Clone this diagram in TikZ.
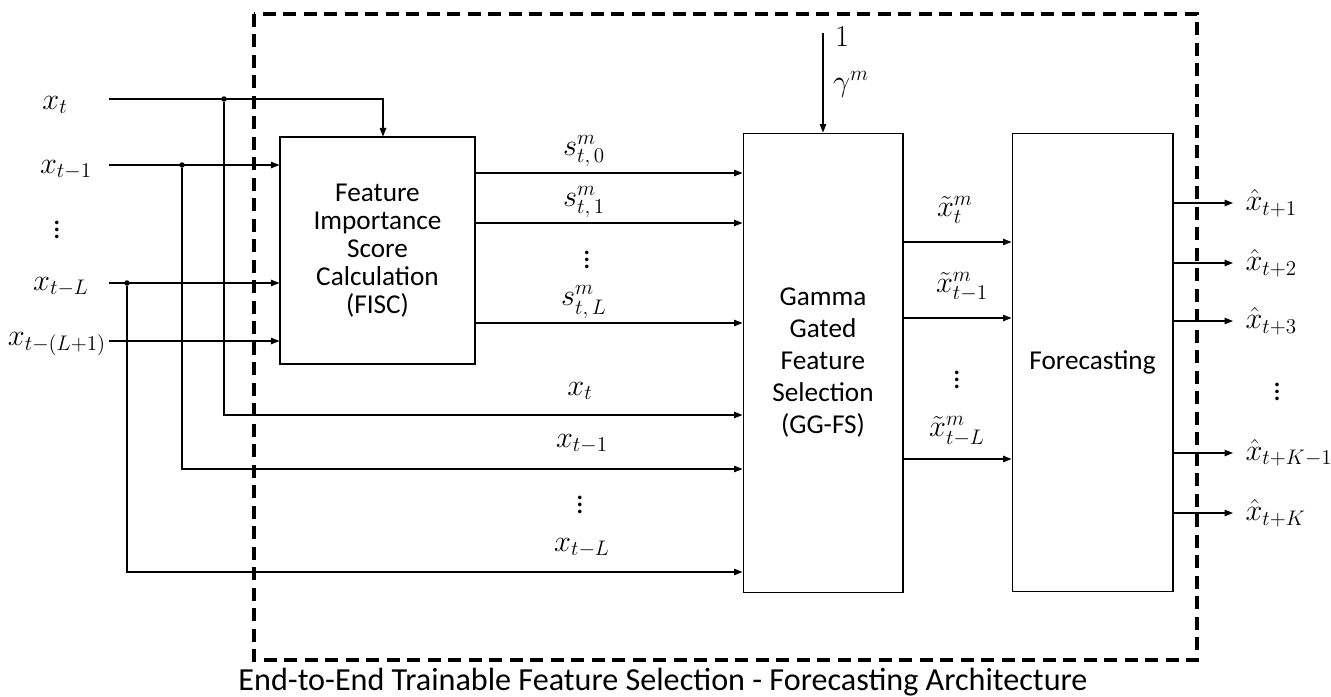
\documentclass[tikz,border=0pt]{standalone}
\usepackage{amsmath,amssymb}
\usepackage[no-math]{fontspec}
\setmainfont{Carlito}
\usetikzlibrary{arrows.meta}

\tikzset{
  blk/.style={draw, line width=0.6pt, align=center, font=\fontsize{15.5}{16}\selectfont},
  arr/.style={-{Triangle[length=1.7mm,width=1.3mm]}, line width=0.6pt},
  lbl/.style={font=\fontsize{17}{19}\selectfont, inner sep=0pt},
  jdot/.style={circle, fill, inner sep=0pt, minimum size=1.1mm}
}

\begin{document}
\begin{tikzpicture}[x=0.02cm, y=-0.02cm]
\useasboundingbox (0,0) rectangle (1331,696);
%--- outer frame ---
\draw[line width=2pt, dash pattern=on 2.6mm off 1.5mm] (254,14) rectangle (1197,660);
\node[font=\fontsize{18.3}{20}\selectfont, inner sep=0pt] (cap) at (663,682) {End-to-End Trainable Feature Selection - Forecasting Architecture};

%--- blocks ---
\node[blk, minimum width=3.9cm, minimum height=4.54cm] (fisc) at (377.5,250.5)
  {Feature\\Importance\\Score\\Calculation\\(FISC)};
\node[blk, minimum width=3.2cm, minimum height=9.2cm, font=\fontsize{15.5}{18.2}\selectfont] (ggfs) at (823,363)
  {Gamma\\Gated\\Feature\\Selection\\(GG-FS)};
\node[blk, minimum width=3.22cm, minimum height=9.18cm] (fc) at (1092.5,362.5) {Forecasting};

%--- inputs ---
\node[lbl] (in0) at (55,105) {$x_t$};
\node[lbl] (in1) at (66,170) {$x_{t-1}$};
\node[lbl] (indots) at (57,225) {$\vdots$};
\node[lbl] (inL) at (61,287) {$x_{t-L}$};
\node[lbl] (inL1) at (57,344) {$x_{t-(L+1)}$};
\coordinate (s0) at (109,99);
\coordinate (s1) at (109,165);
\coordinate (sL) at (109,283);
\coordinate (sL1) at (109,341);
\node[jdot] (j0) at (224,99) {};
\node[jdot] (j1) at (182,165) {};
\node[jdot] (jL) at (127,283) {};
\draw[arr] (s0) -| (383,0 |- fisc.north);
\draw[arr] (s1) -- (s1 -| fisc.west);
\draw[arr] (sL) -- (sL -| fisc.west);
\draw[arr] (sL1) -- (sL1 -| fisc.west);

% bypass lines into GG-FS
\draw[arr] (j0) |- (ggfs.west |- 0,415);
\draw[arr] (j1) |- (ggfs.west |- 0,469);
\draw[arr] (jL) |- (ggfs.west |- 0,572);
\node[lbl] (b0) at (580,391) {$x_t$};
\node[lbl] (b1) at (582,444) {$x_{t-1}$};
\node[lbl] (bdots) at (580,500) {$\vdots$};
\node[lbl] (bL) at (582,548) {$x_{t-L}$};

%--- scores ---
\draw[arr] (fisc.east |- 0,173) -- (ggfs.west |- 0,173);
\draw[arr] (fisc.east |- 0,223) -- (ggfs.west |- 0,223);
\draw[arr] (fisc.east |- 0,323) -- (ggfs.west |- 0,323);
\node[lbl] (sc0) at (584,151) {$s^m_{t,\,0}$};
\node[lbl] (sc1) at (584,202) {$s^m_{t,\,1}$};
\node[lbl] (scdots) at (587,255) {$\vdots$};
\node[lbl] (scL) at (584,302) {$s^m_{t,\,L}$};

%--- gamma ---
\coordinate (g) at (823,33);
\draw[arr] (g) -- (ggfs.north);
\node[lbl] (one) at (842,37) {$1$};
\node[lbl] (gam) at (851,84) {$\gamma^m$};

%--- selected features ---
\draw[arr] (ggfs.east |- 0,242) -- (fc.west |- 0,242);
\draw[arr] (ggfs.east |- 0,318) -- (fc.west |- 0,318);
\draw[arr] (ggfs.east |- 0,459) -- (fc.west |- 0,459);
\node[lbl] (t0) at (955,210) {$\tilde{x}^m_t$};
\node[lbl] (t1) at (962,287) {$\tilde{x}^m_{t-1}$};
\node[lbl] (tdots) at (957,375) {$\vdots$};
\node[lbl] (tL) at (957,431) {$\tilde{x}^m_{t-L}$};

%--- outputs ---
\foreach \yy/\txt/\nm in {203/{t+1}/o1, 263/{t+2}/o2, 321/{t+3}/o3, 453/{t+K-1}/oK1, 513/{t+K}/oK}{
  \draw[arr] (fc.east |- 0,\yy) -- (1233,\yy) node[lbl, anchor=west, xshift=2.4mm] (\nm) {$\hat{x}_{\txt}$};
}
\node[lbl] (odots) at (1277,387) {$\vdots$};
\end{tikzpicture}
\end{document}
